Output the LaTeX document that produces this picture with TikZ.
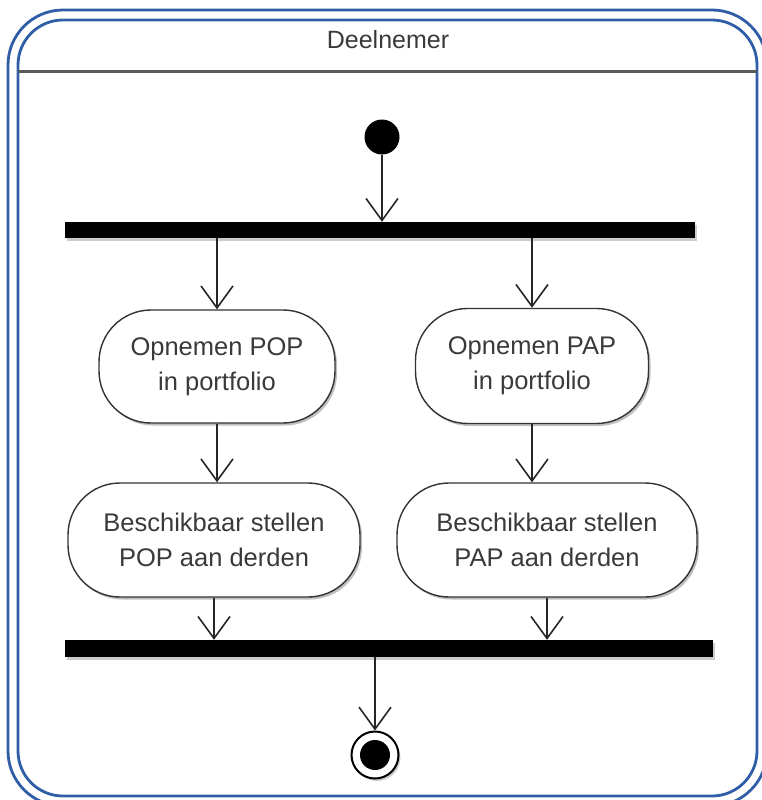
\documentclass[tikz,border=0pt]{standalone}
\usepackage{fontspec}
\setmainfont{Liberation Sans}
\usetikzlibrary{arrows.meta,shadows}
\definecolor{laneblue}{HTML}{2F5DA6}
\definecolor{txtgray}{HTML}{3A3A3A}
\definecolor{sepgray}{HTML}{5A5A5A}
\begin{document}
\begin{tikzpicture}[x=1pt,y=-1pt,
  act/.style={draw=black!80, line width=1.4pt, fill=white, rounded corners=52pt,
    align=center, text=txtgray, font=\fontsize{25.5}{35}\selectfont, inner sep=0pt,
    drop shadow={shadow xshift=2pt, shadow yshift=-2.5pt, opacity=0.25, fill=black}},
  syncbar/.style={fill=black, draw=none, inner sep=0pt,
    drop shadow={shadow xshift=2pt, shadow yshift=-2.5pt, opacity=0.2, fill=black}},
  flow/.style={draw=black!85, line width=1.6pt,
    -{Straight Barb[length=22pt, width=32pt, line width=1.6pt]}},
  lane/.style={draw=laneblue, line width=2.8pt}
]
\useasboundingbox (0,0) rectangle (761,800);
% swimlane border (double blue line)
\draw[lane, rounded corners=55pt] (8,10) rectangle (767,806);
\draw[lane, rounded corners=45pt] (18,20) rectangle (757,796);
\coordinate (sepL) at (18,71);
\coordinate (sepR) at (757,71);
\draw[draw=sepgray, line width=3pt] (sepL) -- (sepR);
\node[text=txtgray, font=\fontsize{25}{30}\selectfont] (title) at (388,40) {Deelnemer};

% start
\node[circle, fill=black, minimum size=35pt, inner sep=0pt] (start) at (382,137) {};
% fork bar
\node[syncbar, minimum width=630pt, minimum height=16pt] (fork) at (380,230) {};
% actions
\node[act, minimum width=236pt, minimum height=113pt] (b1) at (217,366.5) {Opnemen POP\\in portfolio};
\node[act, minimum width=233pt, minimum height=115pt] (b2) at (532,366) {Opnemen PAP\\in portfolio};
\node[act, minimum width=292pt, minimum height=114pt] (b3) at (214,540) {Beschikbaar stellen\\POP aan derden};
\node[act, minimum width=300pt, minimum height=114pt] (b4) at (547,540) {Beschikbaar stellen\\PAP aan derden};
% join bar
\node[syncbar, minimum width=648pt, minimum height=17pt] (join) at (389,648.5) {};
% final
\node[circle, draw=black, line width=2pt, fill=white, minimum size=47pt, inner sep=0pt,
  drop shadow={shadow xshift=2pt, shadow yshift=-2.5pt, opacity=0.2, fill=black}] (final) at (375,755) {};
\node[circle, fill=black, minimum size=30pt, inner sep=0pt] (finalin) at (final) {};

% flows
\draw[flow] (start) -- (start |- fork.north);
\draw[flow] (fork.south -| b1.north) -- (b1.north);
\draw[flow] (fork.south -| b2.north) -- (b2.north);
\draw[flow] (b1.south) -- (b1.south |- b3.north);
\draw[flow] (b2.south) -- (b2.south |- b4.north);
\draw[flow] (b3.south) -- (b3.south |- join.north);
\draw[flow] (b4.south) -- (b4.south |- join.north);
\draw[flow] (join.south -| final.north) -- (final.north);
\end{tikzpicture}
\end{document}
